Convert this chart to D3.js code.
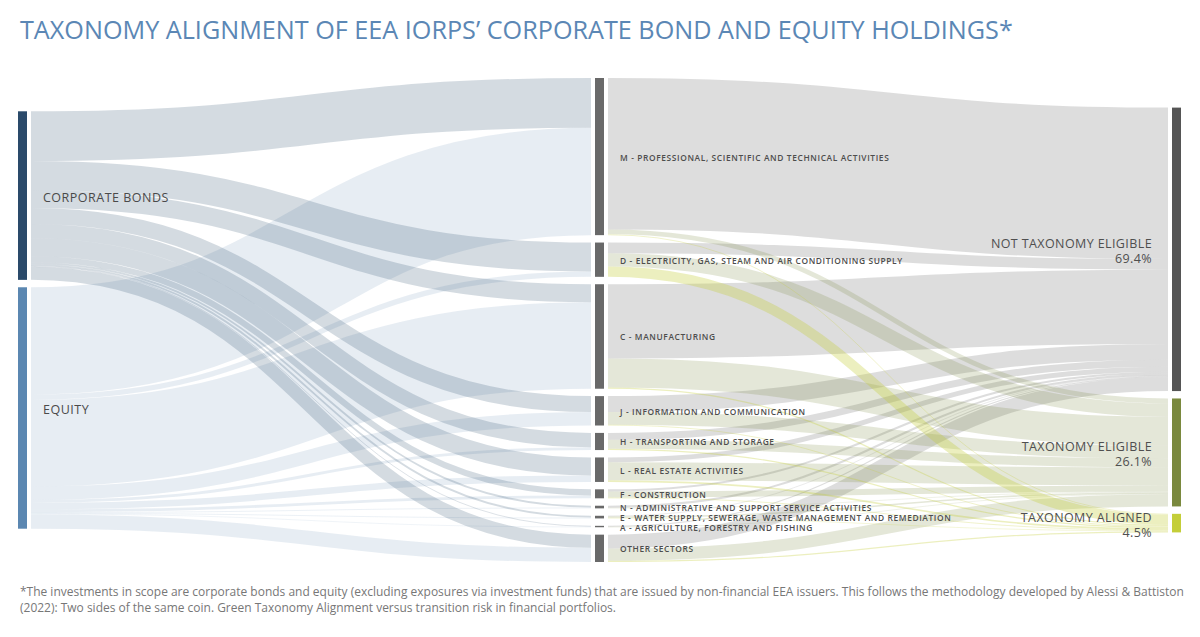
<!DOCTYPE html>
<html>
<head>
<meta charset="utf-8">
<script src="https://cdn.jsdelivr.net/npm/d3@7"></script>
<style>
  body { margin: 0; background: #fff; }
  svg { display: block; }
</style>
</head>
<body>
<svg id="chart" width="1200" height="637"></svg>
<script>
// Left column: type of holding
const holdings = ["CORPORATE BONDS", "EQUITY"];

// Middle column: NACE sectors of the issuers
const sectors = [
    "M - PROFESSIONAL, SCIENTIFIC AND TECHNICAL ACTIVITIES",
    "D - ELECTRICITY, GAS, STEAM AND AIR CONDITIONING SUPPLY",
    "C - MANUFACTURING",
    "J - INFORMATION AND COMMUNICATION",
    "H - TRANSPORTING AND STORAGE",
    "L - REAL ESTATE ACTIVITIES",
    "F - CONSTRUCTION",
    "N - ADMINISTRATIVE AND SUPPORT SERVICE ACTIVITIES",
    "E - WATER SUPPLY, SEWERAGE, WASTE MANAGEMENT AND REMEDIATION",
    "A - AGRICULTURE, FORESTRY AND FISHING",
    "OTHER SECTORS"
];

// Right column: taxonomy outcome
const outcomes = ["NOT TAXONOMY ELIGIBLE", "TAXONOMY ELIGIBLE", "TAXONOMY ALIGNED"];
const outcomeShares = ["69.4%", "26.1%", "4.5%"];

// Share of total holdings (%) going from each holding type to each sector
const bondsBySector  = [12.2, 7.1, 4.4, 3.9, 3.5, 4.4, 1.5, 0.45, 0.45, 0.2, 3.2];
const equityBySector = [26.3, 1.3, 21.2, 3.3, 0.7, 1.6, 0.7, 0.2, 0.2, 0.15, 3.5];

// Share of total holdings (%) going from each sector to each outcome
const notEligibleBySector = [37.1, 2.6, 18.2, 3.9, 1.7, 1.2, 0.5, 0.5, 0.1, 0.25, 3.4];
const eligibleBySector    = [1.2, 3.3, 7.1, 3.1, 2.2, 4.4, 1.5, 0.15, 0.4, 0.1, 3.0];
const alignedBySector     = [0.2, 2.5, 0.3, 0.2, 0.3, 0.4, 0.2, 0, 0.15, 0, 0.3];

const footnote = [
    "*The investments in scope are corporate bonds and equity (excluding exposures via investment funds) that are issued by non-financial EEA issuers. This follows the methodology developed by Alessi & Battiston",
    "(2022): Two sides of the same coin. Green Taxonomy Alignment versus transition risk in financial portfolios."
];

const svg = d3.select("#chart");

const holdingColors = ["#2a4a6a", "#5b87b1"];
const holdingLinkOpacity = [0.2, 0.15];
const outcomeColors = ["#555555", "#7a893e", "#c4ce39"];
const outcomeLinkOpacity = [0.2, 0.2, 0.32];
const sectorColor = "#696969";

// Build nodes and links
const nodes = [];
holdings.forEach((name, i) => nodes.push({ name, col: 0, color: holdingColors[i], i }));
sectors.forEach((name, i) => nodes.push({ name, col: 1, color: sectorColor, i }));
outcomes.forEach((name, i) => nodes.push({ name, col: 2, color: outcomeColors[i], i, share: outcomeShares[i] }));
nodes.forEach(n => { n.sourceLinks = []; n.targetLinks = []; });

const holdingNode = i => nodes[i];
const sectorNode = i => nodes[holdings.length + i];
const outcomeNode = i => nodes[holdings.length + sectors.length + i];

const links = [];
function addLink(source, target, value, color, opacity) {
    if (value <= 0) return;
    const l = { source, target, value, color, opacity };
    links.push(l);
    source.sourceLinks.push(l);
    target.targetLinks.push(l);
}
sectors.forEach((s, i) => {
    addLink(holdingNode(0), sectorNode(i), bondsBySector[i], holdingColors[0], holdingLinkOpacity[0]);
    addLink(holdingNode(1), sectorNode(i), equityBySector[i], holdingColors[1], holdingLinkOpacity[1]);
});
[notEligibleBySector, eligibleBySector, alignedBySector].forEach((vals, k) => {
    sectors.forEach((s, i) => {
        addLink(sectorNode(i), outcomeNode(k), vals[i], outcomeColors[k], outcomeLinkOpacity[k]);
    });
});
nodes.forEach(n => {
    n.value = Math.max(d3.sum(n.sourceLinks, l => l.value), d3.sum(n.targetLinks, l => l.value));
});

// Layout
const nodeWidth = 9;
const nodePadding = 7.4;
const linkGap = 4;
const centerY = 320;
const x = d3.scaleLinear().domain([0, 2]).range([18, 1172]);
const total = d3.sum(nodes.filter(n => n.col === 0), n => n.value);
const ky = d3.scaleLinear().domain([0, total]).range([0, 410]);

d3.groups(nodes, n => n.col).forEach(([col, colNodes]) => {
    const h = d3.sum(colNodes, n => ky(n.value)) + (colNodes.length - 1) * nodePadding;
    let y = centerY - h / 2;
    colNodes.forEach(n => {
        n.x0 = x(col);
        n.x1 = n.x0 + nodeWidth;
        n.y0 = y;
        n.y1 = y + ky(n.value);
        y = n.y1 + nodePadding;
    });
});

links.forEach(l => l.width = ky(l.value));
nodes.forEach(n => {
    n.sourceLinks.sort((a, b) => a.target.y0 - b.target.y0);
    n.targetLinks.sort((a, b) => a.source.y0 - b.source.y0);
    let y = n.y0;
    n.sourceLinks.forEach(l => { l.y0 = y + l.width / 2; y += l.width; });
    y = n.y0;
    n.targetLinks.forEach(l => { l.y1 = y + l.width / 2; y += l.width; });
});

// Title
svg.append("text")
    .attr("x", 20)
    .attr("y", 39)
    .attr("fill", "#5b87b5")
    .style("font-family", "'Open Sans', sans-serif")
    .style("font-size", "25.2px")
    .text("TAXONOMY ALIGNMENT OF EEA IORPS’ CORPORATE BOND AND EQUITY HOLDINGS*");

// Links
const linkPath = d3.linkHorizontal()
    .source(d => [d.source.x1 + linkGap, d.y0])
    .target(d => [d.target.x0 - linkGap, d.y1]);

svg.append("g")
    .attr("fill", "none")
    .selectAll("path")
    .data(links)
    .join("path")
    .attr("d", linkPath)
    .attr("stroke", d => d.color)
    .attr("stroke-opacity", d => d.opacity)
    .attr("stroke-width", d => Math.max(0.6, d.width));

// Nodes
svg.append("g")
    .selectAll("rect")
    .data(nodes)
    .join("rect")
    .attr("x", d => d.x0)
    .attr("y", d => d.y0)
    .attr("width", d => d.x1 - d.x0)
    .attr("height", d => Math.max(1, d.y1 - d.y0))
    .attr("fill", d => d.color);

// Labels
const labels = svg.append("g")
    .style("font-family", "'Open Sans', sans-serif");

labels.selectAll("text.holding")
    .data(nodes.filter(n => n.col === 0))
    .join("text")
    .attr("class", "holding")
    .attr("x", d => d.x1 + 16)
    .attr("y", d => (d.y0 + d.y1) / 2 + 6)
    .attr("fill", "#4a4a4a")
    .style("font-size", "12.5px")
    .style("letter-spacing", "0.5px")
    .text(d => d.name);

labels.selectAll("text.sector")
    .data(nodes.filter(n => n.col === 1))
    .join("text")
    .attr("class", "sector")
    .attr("x", d => d.x1 + 16)
    .attr("y", d => (d.y0 + d.y1) / 2 + 4)
    .attr("fill", "#4d4d4d")
    .style("font-size", "8.4px")
    .style("font-weight", 600)
    .style("letter-spacing", "0.62px")
    .text(d => d.name);

const outcomeLabels = labels.selectAll("text.outcome")
    .data(nodes.filter(n => n.col === 2))
    .join("text")
    .attr("class", "outcome")
    .attr("text-anchor", "end")
    .attr("fill", "#4f4f4f")
    .style("font-size", "12.5px")
    .style("letter-spacing", "0.4px");
outcomeLabels.append("tspan")
    .attr("x", d => d.x0 - 20)
    .attr("y", d => (d.y0 + d.y1) / 2 - 1)
    .text(d => d.name);
outcomeLabels.append("tspan")
    .attr("x", d => d.x0 - 20)
    .attr("y", d => (d.y0 + d.y1) / 2 + 14)
    .text(d => d.share);

// Footnote: no condensed face is installed, so squeeze it horizontally to the original line width
const foot = svg.append("g")
    .selectAll("text")
    .data(footnote)
    .join("text")
    .attr("fill", "#777")
    .style("font-family", "'Open Sans', sans-serif")
    .style("font-size", "12.5px")
    .text(d => d);
const squeeze = 1165 / foot.node().getComputedTextLength();
foot.attr("transform", (d, i) => `translate(20,${596 + i * 16}) scale(${squeeze},1)`);
</script>
</body>
</html>
